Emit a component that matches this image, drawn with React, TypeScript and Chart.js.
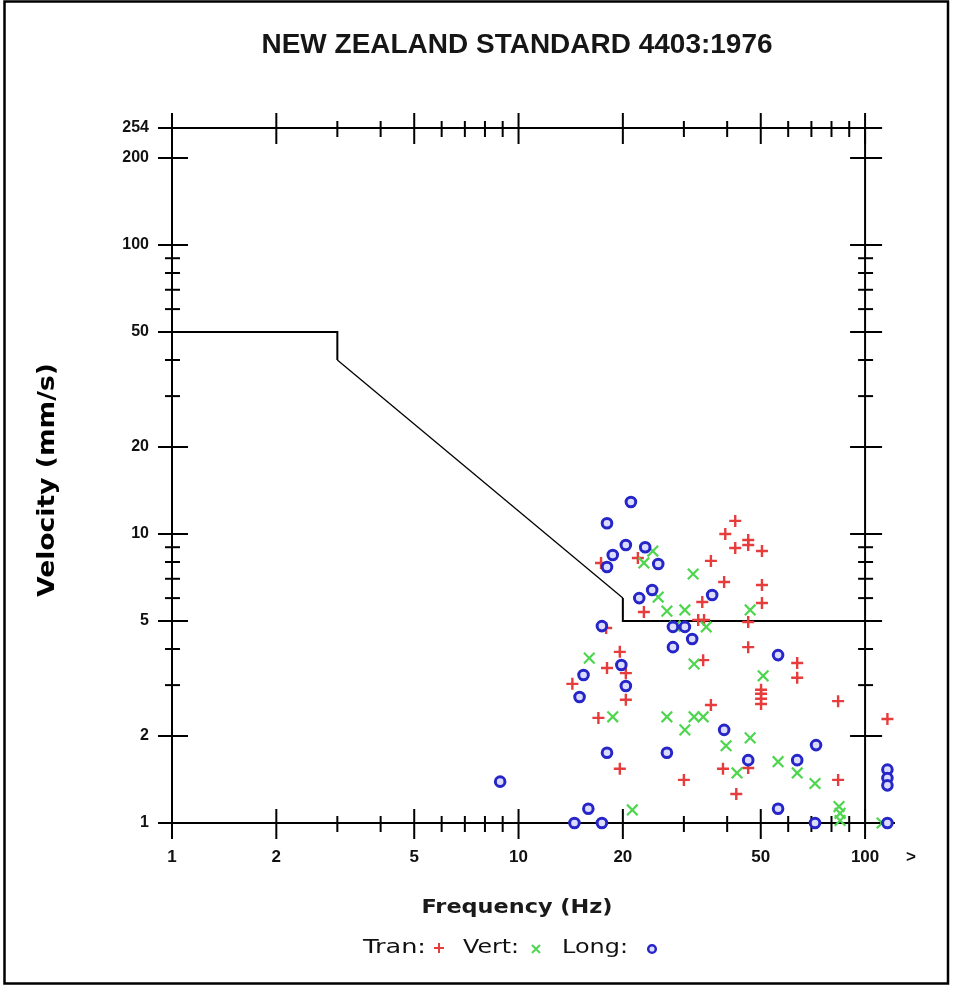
import React, { useEffect, useRef } from 'react';
import { Chart, registerables } from 'chart.js';

Chart.register(...registerables);

// ---------- text ----------
const TITLE = 'NEW ZEALAND STANDARD 4403:1976';
const X_TITLE = 'Frequency (Hz)';
const Y_TITLE = 'Velocity (mm/s)';
const LEGEND_NAMES = ['Tran:', 'Vert:', 'Long:'];
const OVER_LABEL = '>';

// ---------- axes ----------
const X_MIN = 1;
const X_MAX = 122;
const Y_MIN = 1;
const Y_MAX = 254;
const X_MAJOR = [1, 2, 5, 10, 20, 50, 100];
const X_MINOR = [3, 4, 6, 7, 8, 9, 30, 40, 60, 70, 80, 90];
const Y_MAJOR = [1, 2, 5, 10, 20, 50, 100, 200];
const Y_MINOR = [3, 4, 6, 7, 8, 9, 30, 40, 60, 70, 80, 90];
const X_LABELS = [1, 2, 5, 10, 20, 50, 100];
const Y_LABELS = [1, 2, 5, 10, 20, 50, 100, 200, 254];

// ---------- limit curve (NZS 4403:1976) ----------
const LIMIT_X = [1, 3, 3, 20, 20, 100];
const LIMIT_Y = [50, 50, 40, 6, 5, 5];

// ---------- measured peaks ----------
const TRAN_X = [42.2, 39.5, 46.0, 46.0, 42.2, 50.4, 35.9, 22.1, 17.3, 39.2, 50.4, 50.4, 33.9, 23.0, 33.0, 34.3, 46.0, 17.9, 46.0, 34.1, 19.6, 18.0, 20.4, 14.3, 20.4, 17.0, 35.9, 63.7, 63.7, 50.1, 50.1, 50.1, 50.1, 83.6, 116, 19.6, 30.0, 38.9, 46.0, 42.5, 83.6];
const TRAN_Y = [11.1, 10.0, 9.53, 9.16, 8.94, 8.73, 8.07, 8.26, 7.94, 6.82, 6.66, 5.77, 5.82, 5.37, 5.04, 5.04, 4.96, 4.73, 4.06, 3.66, 3.91, 3.44, 3.30, 3.03, 2.67, 2.31, 2.56, 3.58, 3.18, 2.89, 2.80, 2.69, 2.58, 2.64, 2.29, 1.54, 1.41, 1.54, 1.55, 1.26, 1.41];

const VERT_X = [24.4, 23.0, 31.9, 25.3, 26.8, 30.2, 28.3, 34.8, 46.6, 32.1, 16.0, 18.7, 26.8, 32.1, 34.1, 30.2, 39.7, 46.6, 50.8, 42.7, 56.1, 63.7, 71.7, 84.1, 84.7, 84.7, 21.3, 112];
const VERT_Y = [8.73, 7.94, 7.27, 6.05, 5.41, 5.46, 4.80, 4.77, 5.46, 3.55, 3.72, 2.33, 2.33, 2.33, 2.33, 2.10, 1.85, 1.97, 3.23, 1.49, 1.63, 1.49, 1.37, 1.14, 1.08, 1.02, 1.11, 1.0];

const LONG_X = [21.1, 18.0, 20.4, 23.2, 18.7, 25.3, 18.0, 24.3, 22.3, 36.2, 17.4, 27.9, 30.2, 31.7, 27.9, 56.1, 19.8, 15.4, 20.4, 15.0, 39.2, 18.0, 26.8, 46.0, 63.7, 72.2, 116, 116, 116, 15.9, 14.5, 17.4, 56.1, 71.7, 116, 8.85];
const LONG_Y = [12.9, 10.9, 9.16, 9.0, 8.46, 7.87, 7.69, 6.4, 6.0, 6.15, 4.8, 4.77, 4.77, 4.33, 4.06, 3.81, 3.52, 3.25, 2.98, 2.73, 2.1, 1.75, 1.75, 1.65, 1.65, 1.86, 1.53, 1.43, 1.35, 1.12, 1.0, 1.0, 1.12, 1.0, 1.0, 1.39];

const RED = '#e63c3c';
const GREEN = '#4fd64f';
const BLUE = '#2626c8';

const zip = (xs: number[], ys: number[]) => xs.map((x, i) => ({ x, y: ys[i] }));

function drawText(
  ctx: CanvasRenderingContext2D, s: string, x: number, y: number, font: string,
  align: CanvasTextAlign, color: string, width?: number, rot?: number
) {
  ctx.save();
  ctx.font = font;
  ctx.fillStyle = color;
  ctx.textAlign = align;
  ctx.textBaseline = 'middle';
  ctx.translate(x, y);
  if (rot) ctx.rotate(rot);
  if (width) {
    const w = ctx.measureText(s).width;
    if (w > 0) ctx.scale(width / w, 1);
  }
  ctx.fillText(s, 0, 0);
  ctx.restore();
}

const decorPlugin = {
  id: 'decor',
  beforeDatasetsDraw(chart: any) {
    const { ctx, chartArea: a, scales } = chart;
    const xs = scales.x;
    const ys = scales.y;
    const L = xs.getPixelForValue(X_MIN);
    const R = xs.getPixelForValue(100);
    const T = ys.getPixelForValue(Y_MAX);
    const B = ys.getPixelForValue(Y_MIN);
    ctx.save();
    ctx.strokeStyle = '#000';
    ctx.lineWidth = 2;
    ctx.lineCap = 'butt';
    const seg = (x1: number, y1: number, x2: number, y2: number) => {
      ctx.beginPath();
      ctx.moveTo(x1, y1);
      ctx.lineTo(x2, y2);
      ctx.stroke();
    };
    // axis lines
    seg(L - 14, T, R + 17, T);
    seg(L - 14, B, a.right, B);
    seg(L, T, L, B);
    seg(R, T, R, B);
    // x ticks (top & bottom)
    X_MAJOR.forEach((v) => {
      const p = xs.getPixelForValue(v);
      seg(p, T - 15, p, T + 16);
      seg(p, B - 14, p, B + 16);
    });
    X_MINOR.forEach((v) => {
      const p = xs.getPixelForValue(v);
      seg(p, T - 7, p, T + 9);
      seg(p, B - 7, p, B + 9);
    });
    // y ticks (left & right)
    Y_MAJOR.forEach((v) => {
      const p = ys.getPixelForValue(v);
      seg(L - 14, p, L + 16, p);
      seg(R - 15, p, R + 17, p);
    });
    Y_MINOR.forEach((v) => {
      const p = ys.getPixelForValue(v);
      seg(L - 7, p, L + 8, p);
      seg(R - 7, p, R + 8, p);
    });
    ctx.restore();
  },
  afterDraw(chart: any) {
    const { ctx, chartArea: a, scales } = chart;
    const xs = scales.x;
    const ys = scales.y;
    const L = xs.getPixelForValue(X_MIN);
    const B = ys.getPixelForValue(Y_MIN);
    const tickFont = 'bold 16px "Liberation Sans", Arial, sans-serif';
    const xTickFont = 'bold 17px "Liberation Sans", Arial, sans-serif';
    // tick labels
    Y_LABELS.forEach((v) => {
      drawText(ctx, String(v), L - 23, ys.getPixelForValue(v), tickFont, 'right', '#111');
    });
    X_LABELS.forEach((v) => {
      drawText(ctx, String(v), xs.getPixelForValue(v), B + 34, xTickFont, 'center', '#111');
    });
    drawText(ctx, OVER_LABEL, a.right + 16, B + 34, xTickFont, 'center', '#111');

    // titles
    drawText(ctx, TITLE, 517, 45, 'bold 28px "Liberation Sans", Arial, sans-serif', 'center', '#161616', 511);
    drawText(ctx, X_TITLE, 517, 908, 'bold 20px "DejaVu Sans", Verdana, sans-serif', 'center', '#1a1a1a', 191);
    drawText(ctx, Y_TITLE, 48, 480, 'bold 23px "DejaVu Sans", Verdana, sans-serif', 'center', '#000', 234, -Math.PI / 2);

    // legend
    const ly = 948;
    const legendFont = '20px "DejaVu Sans", Verdana, sans-serif';
    drawText(ctx, LEGEND_NAMES[0], 363, ly, legendFont, 'left', '#111', 63);
    drawText(ctx, LEGEND_NAMES[1], 463, ly, legendFont, 'left', '#111', 56);
    drawText(ctx, LEGEND_NAMES[2], 562, ly, legendFont, 'left', '#111', 66);
    ctx.save();
    ctx.lineWidth = 2;
    ctx.strokeStyle = RED;
    ctx.beginPath();
    ctx.moveTo(434, ly); ctx.lineTo(444, ly);
    ctx.moveTo(439, ly - 5); ctx.lineTo(439, ly + 5);
    ctx.stroke();
    ctx.strokeStyle = GREEN;
    ctx.beginPath();
    ctx.moveTo(532, ly - 3); ctx.lineTo(540, ly + 5);
    ctx.moveTo(540, ly - 3); ctx.lineTo(532, ly + 5);
    ctx.stroke();
    ctx.strokeStyle = BLUE;
    ctx.lineWidth = 2.5;
    ctx.fillStyle = '#dcdcff';
    ctx.beginPath();
    ctx.arc(652, ly + 1, 3.8, 0, Math.PI * 2);
    ctx.fill();
    ctx.stroke();
    ctx.restore();

    // outer frame
    ctx.save();
    ctx.strokeStyle = '#000';
    ctx.lineWidth = 2.5;
    ctx.strokeRect(4.5, 1.5, 943.5, 982);
    ctx.restore();
  },
};

export default function App() {
  const ref = useRef<HTMLCanvasElement | null>(null);

  useEffect(() => {
    if (!ref.current) return;
    const chart = new Chart(ref.current, {
      type: 'scatter',
      data: {
        datasets: [
          {
            label: 'Long',
            data: zip(LONG_X, LONG_Y),
            pointStyle: 'circle',
            pointRadius: 4.8,
            borderWidth: 3,
            borderColor: BLUE,
            backgroundColor: '#dcdcff',
            order: 0,
            clip: false as any,
          },
          {
            label: 'Vert',
            data: zip(VERT_X, VERT_Y),
            pointStyle: 'crossRot',
            pointRadius: 7.5,
            borderWidth: 2.2,
            borderColor: GREEN,
            backgroundColor: GREEN,
            order: 1,
            clip: false as any,
          },
          {
            label: 'Tran',
            data: zip(TRAN_X, TRAN_Y),
            pointStyle: 'cross',
            pointRadius: 6,
            borderWidth: 2.4,
            borderColor: RED,
            backgroundColor: RED,
            order: 2,
            clip: false as any,
          },
          {
            label: 'Limit',
            data: zip(LIMIT_X, LIMIT_Y),
            showLine: true,
            pointRadius: 0,
            borderColor: '#000',
            borderWidth: 2,
            tension: 0,
            order: 3,
            clip: false as any,
            segment: {
              borderWidth: (c: any) =>
                c.p0.parsed.x !== c.p1.parsed.x && c.p0.parsed.y !== c.p1.parsed.y ? 1.3 : 2,
            },
          } as any,
        ],
      },
      options: {
        responsive: false,
        animation: false,
        devicePixelRatio: 1,
        layout: { padding: { left: 172, top: 128, right: 58, bottom: 163 } },
        plugins: {
          legend: { display: false },
          tooltip: { enabled: false },
          title: { display: false },
        },
        scales: {
          x: {
            type: 'logarithmic',
            min: X_MIN,
            max: X_MAX,
            bounds: 'data',
            display: false,
          },
          y: {
            type: 'logarithmic',
            min: Y_MIN,
            max: Y_MAX,
            bounds: 'data',
            display: false,
          },
        },
      } as any,
      plugins: [decorPlugin],
    });
    return () => chart.destroy();
  }, []);

  return (
    <div style={{ position: 'absolute', left: 0, top: 0, width: 953, height: 986, background: '#fff' }}>
      <canvas ref={ref} width={953} height={986} style={{ display: 'block', width: 953, height: 986 }} />
    </div>
  );
}
